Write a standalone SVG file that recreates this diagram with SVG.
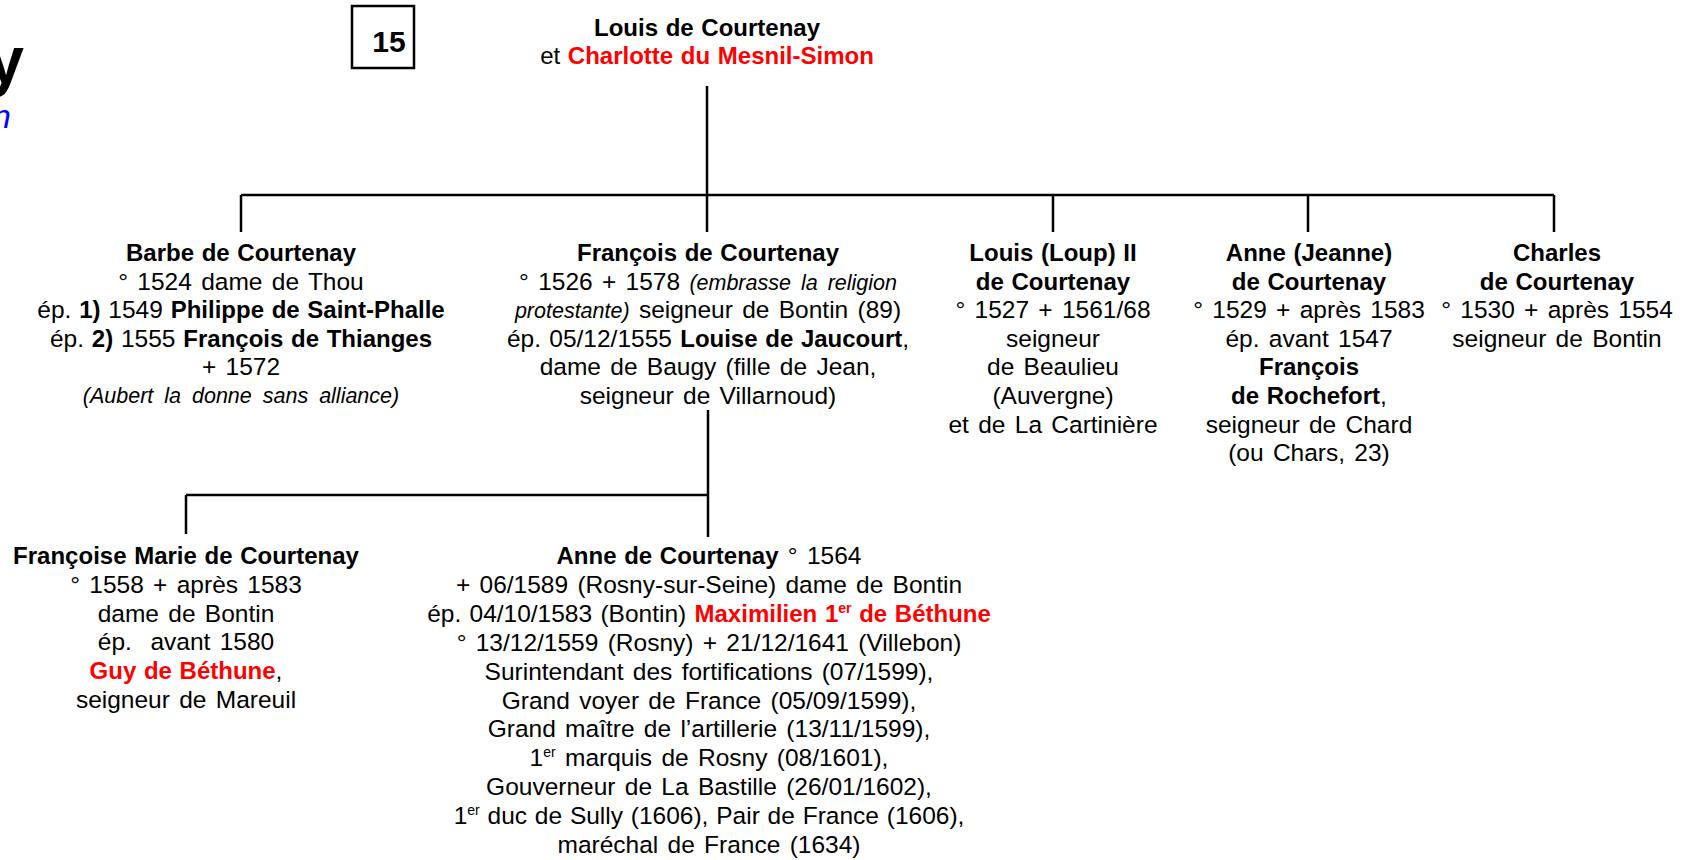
<svg xmlns="http://www.w3.org/2000/svg" width="1690" height="860" viewBox="0 0 1690 860">
<style>
text{font-family:"Liberation Sans",Arial,sans-serif;fill:#000}
.t{font-size:24.5px;text-anchor:middle;word-spacing:2.5px}
.b{font-weight:bold;font-size:24px;word-spacing:1px}
.i{font-style:italic;font-size:21.5px;word-spacing:4px}
.red{fill:#ff0000}
.sup{font-size:14px}
.ln{stroke:#000;stroke-width:2.5;fill:none}
</style>
<rect width="1690" height="860" fill="#fff"/>
<g id="fragments">
<text x="24" y="83" font-size="66" font-weight="bold" text-anchor="end">y</text>
<text x="11" y="128" font-size="34" font-style="italic" text-anchor="end" style="fill:#0000ff">n</text>
</g>
<g id="num">
<rect x="352" y="6" width="62" height="62" fill="none" stroke="#000" stroke-width="2.5"/>
<text x="389" y="52" font-size="30" font-weight="bold" text-anchor="middle">15</text>
</g>
<g id="connectors">
<path class="ln" d="M707,86V232M241,195H1554M241,195V232M1053,195V232M1308,195V232M1554,195V232"/>
<path class="ln" d="M708,410V537M186,495H708M186,495V534"/>
</g>
<g id="parents">
<text class="t b" x="707" y="36">Louis de Courtenay</text>
<text class="t" x="707" y="64" style="font-size:24px;word-spacing:1px">et <tspan class="b red">Charlotte du Mesnil-Simon</tspan></text>
</g>
<g id="barbe">
<text class="t b" x="241" y="261">Barbe de Courtenay</text>
<text class="t" x="241" y="289.6">° 1524 dame de Thou</text>
<text class="t" x="241" y="318.2" style="word-spacing:1px">ép. <tspan class="b">1)</tspan> 1549 <tspan class="b">Philippe de Saint-Phalle</tspan></text>
<text class="t" x="241" y="346.8" style="word-spacing:1px">ép. <tspan class="b">2)</tspan> 1555 <tspan class="b">François de Thianges</tspan></text>
<text class="t" x="241" y="375.4">+ 1572</text>
<text class="t i" x="241" y="403" style="word-spacing:5px">(Aubert la donne sans alliance)</text>
</g>
<g id="francois">
<text class="t b" x="708" y="261">François de Courtenay</text>
<text class="t" x="708" y="289.6">° 1526 + 1578 <tspan class="i">(embrasse la religion</tspan></text>
<text class="t" x="708" y="318.2"><tspan class="i">protestante)</tspan> seigneur de Bontin (89)</text>
<text class="t" x="708" y="346.8" style="word-spacing:1.5px">ép. 05/12/1555 <tspan class="b">Louise de Jaucourt</tspan>,</text>
<text class="t" x="708" y="375.4">dame de Baugy (fille de Jean,</text>
<text class="t" x="708" y="404">seigneur de Villarnoud)</text>
</g>
<g id="louis2">
<text class="t b" x="1053" y="261">Louis (Loup) II</text>
<text class="t b" x="1053" y="289.6">de Courtenay</text>
<text class="t" x="1053" y="318.2">° 1527 + 1561/68</text>
<text class="t" x="1053" y="346.8">seigneur</text>
<text class="t" x="1053" y="375.4">de Beaulieu</text>
<text class="t" x="1053" y="404">(Auvergne)</text>
<text class="t" x="1053" y="432.6">et de La Cartinière</text>
</g>
<g id="anne-jeanne">
<text class="t b" x="1309" y="261">Anne (Jeanne)</text>
<text class="t b" x="1309" y="289.6">de Courtenay</text>
<text class="t" x="1309" y="318.2">° 1529 + après 1583</text>
<text class="t" x="1309" y="346.8">ép. avant 1547</text>
<text class="t b" x="1309" y="375.4">François</text>
<text class="t" x="1309" y="404"><tspan class="b">de Rochefort</tspan>,</text>
<text class="t" x="1309" y="432.6">seigneur de Chard</text>
<text class="t" x="1309" y="461.2">(ou Chars, 23)</text>
</g>
<g id="charles">
<text class="t b" x="1557" y="261">Charles</text>
<text class="t b" x="1557" y="289.6">de Courtenay</text>
<text class="t" x="1557" y="318.2">° 1530 + après 1554</text>
<text class="t" x="1557" y="346.8">seigneur de Bontin</text>
</g>
<g id="francoise">
<text class="t b" x="186" y="564">Françoise Marie de Courtenay</text>
<text class="t" x="186" y="592.8">° 1558 + après 1583</text>
<text class="t" x="186" y="621.6">dame de Bontin</text>
<text class="t" x="186" y="650.4">ép.&#160; avant 1580</text>
<text class="t" x="186" y="679.2"><tspan class="b red">Guy de Béthune</tspan>,</text>
<text class="t" x="186" y="708">seigneur de Mareuil</text>
</g>
<g id="anne">
<text class="t" x="709" y="564"><tspan class="b">Anne de Courtenay</tspan> ° 1564</text>
<text class="t" x="709" y="592.9">+ 06/1589 (Rosny-sur-Seine) dame de Bontin</text>
<text class="t" x="709" y="621.8" style="word-spacing:1.5px">ép. 04/10/1583 (Bontin) <tspan class="b red">Maximilien 1<tspan class="sup" dy="-9">er</tspan><tspan dy="9"> de Béthune</tspan></tspan></text>
<text class="t" x="709" y="650.7">° 13/12/1559 (Rosny) + 21/12/1641 (Villebon)</text>
<text class="t" x="709" y="679.6">Surintendant des fortifications (07/1599),</text>
<text class="t" x="709" y="708.5">Grand voyer de France (05/09/1599),</text>
<text class="t" x="709" y="737.4">Grand maître de l’artillerie (13/11/1599),</text>
<text class="t" x="709" y="766.3">1<tspan class="sup" dy="-9">er</tspan><tspan dy="9"> marquis de Rosny (08/1601),</tspan></text>
<text class="t" x="709" y="795.2">Gouverneur de La Bastille (26/01/1602),</text>
<text class="t" x="709" y="824.1" style="word-spacing:1px">1<tspan class="sup" dy="-9">er</tspan><tspan dy="9"> duc de Sully (1606), Pair de France (1606),</tspan></text>
<text class="t" x="709" y="853">maréchal de France (1634)</text>
</g>
</svg>
